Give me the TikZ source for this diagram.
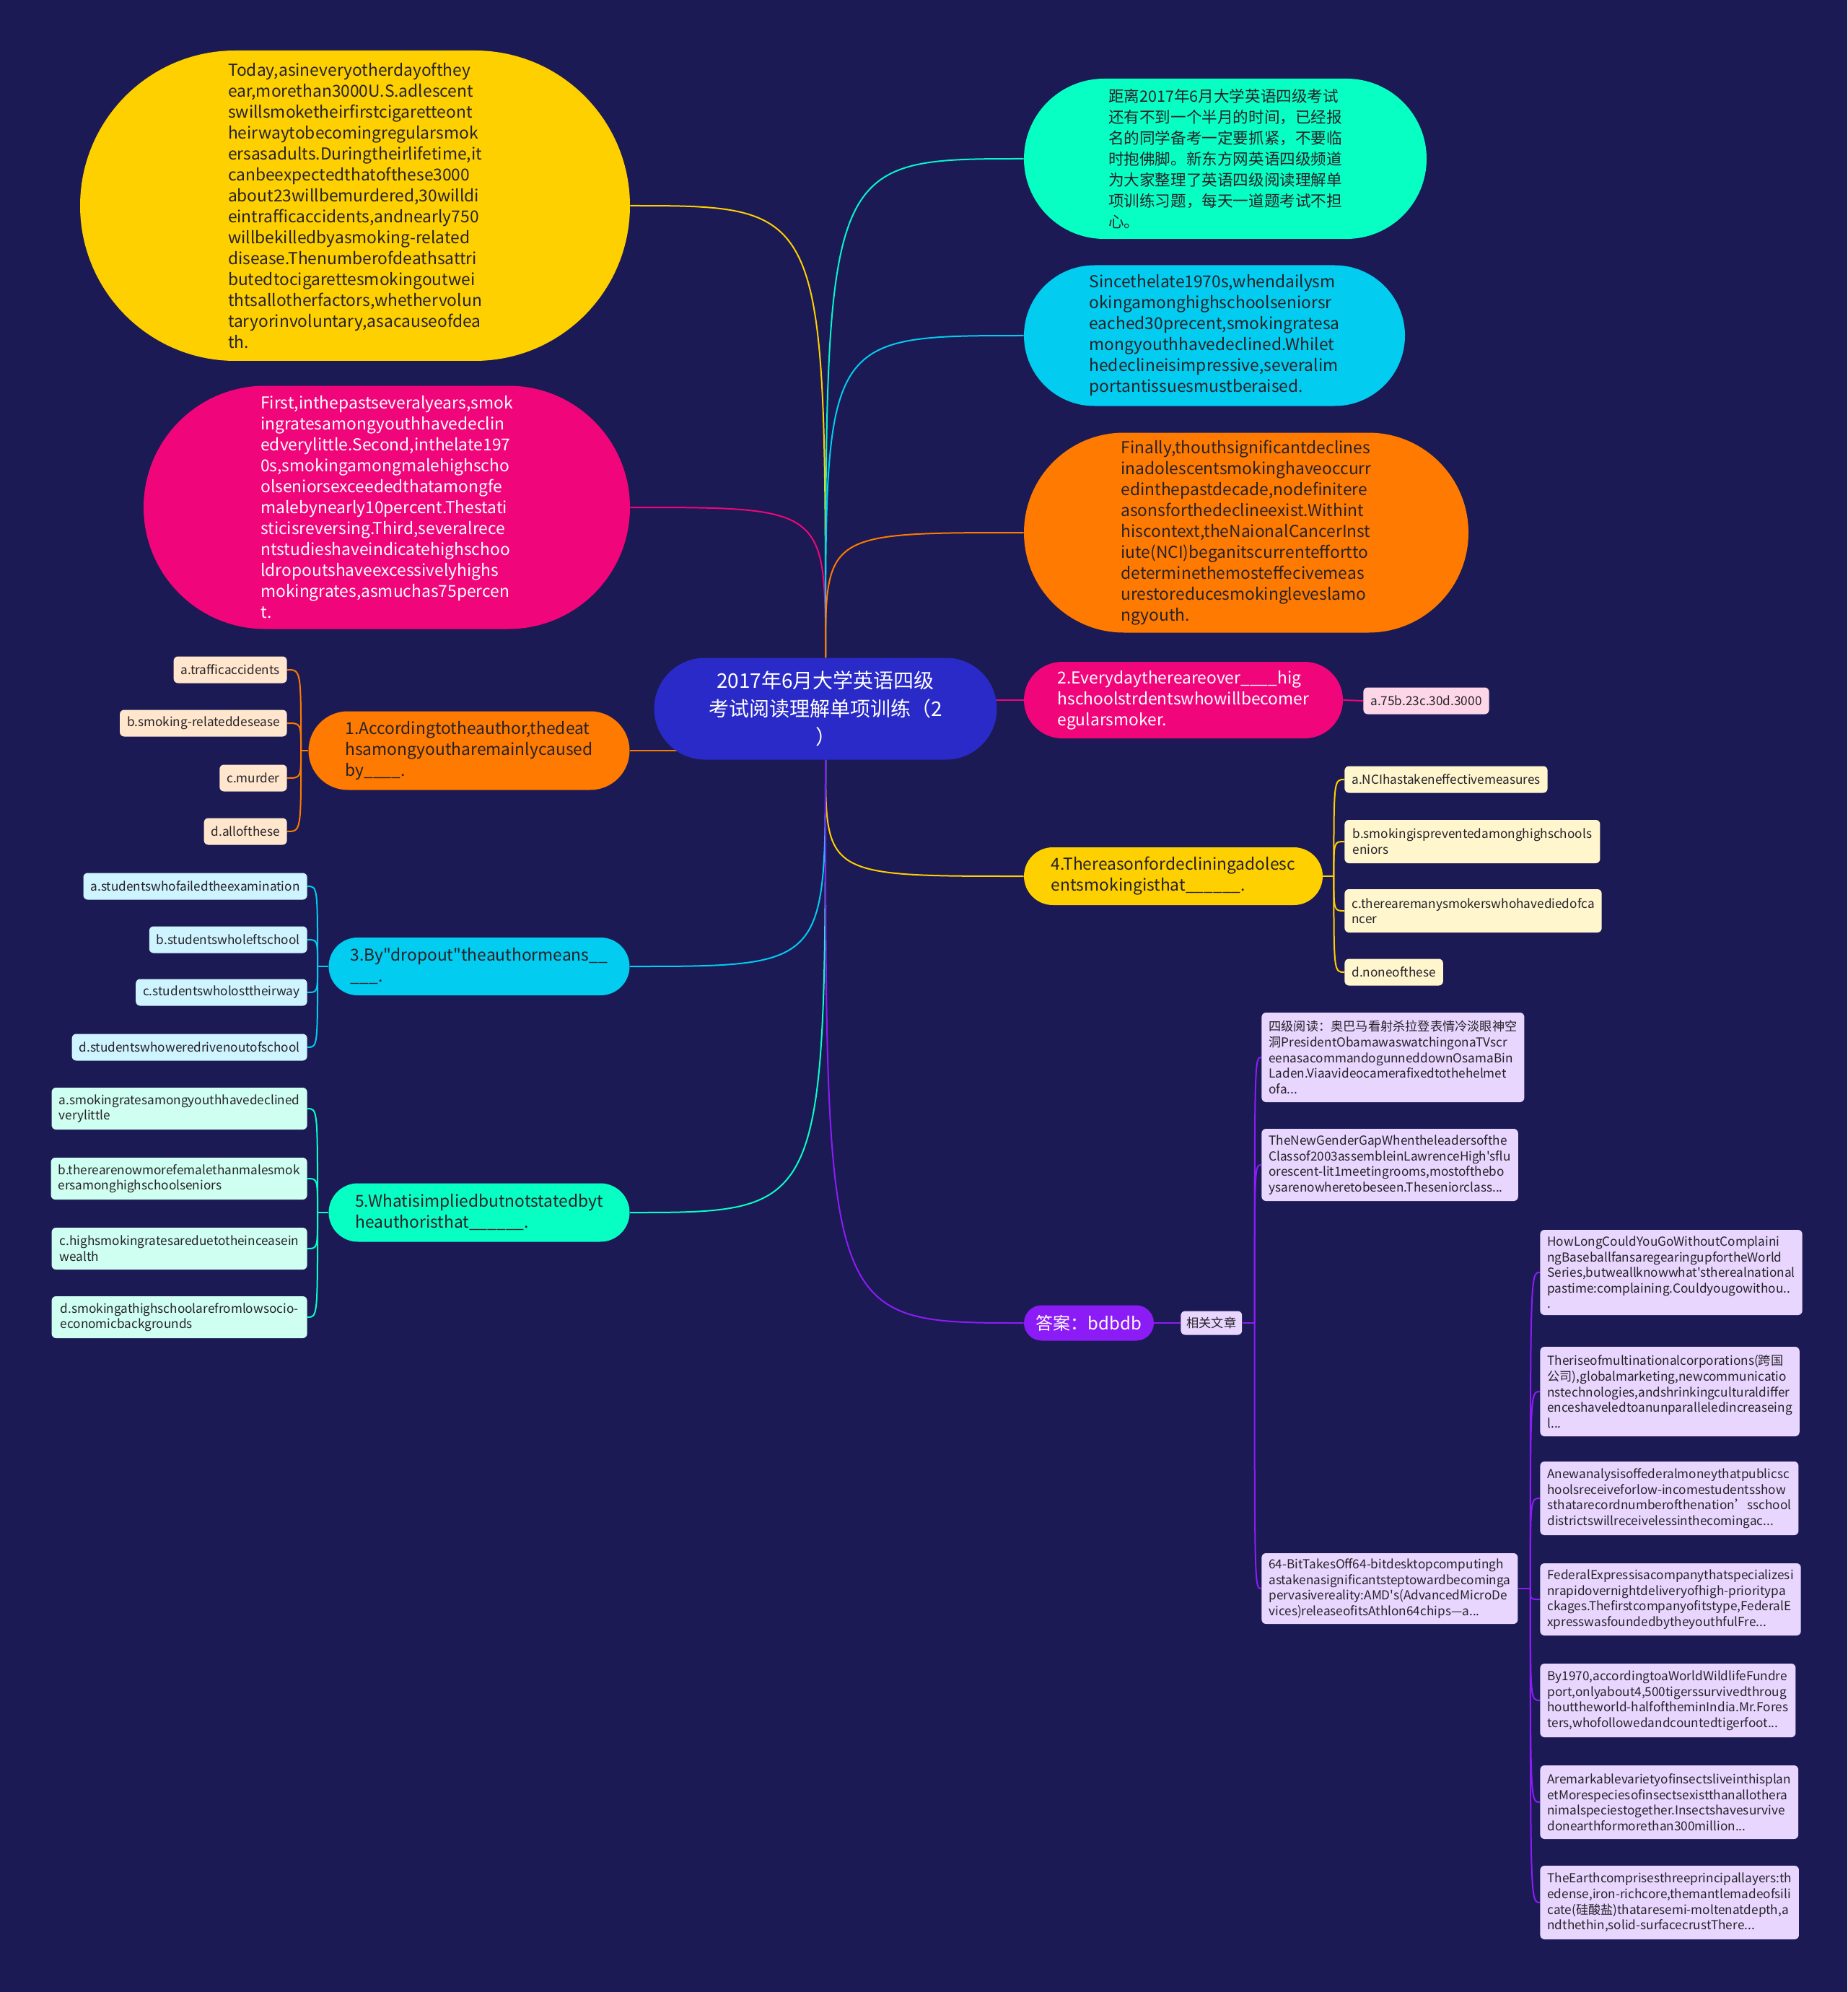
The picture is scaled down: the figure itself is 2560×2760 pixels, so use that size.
\documentclass[tikz,border=0pt]{standalone}
\usepackage{fontspec}
\setmainfont{Noto Sans CJK SC}[Ligatures=TeXOff]
\usetikzlibrary{positioning,shapes.misc,backgrounds}

\definecolor{bgnavy}{RGB}{27,26,84}
\definecolor{rootblue}{RGB}{42,42,200}
\definecolor{sunyellow}{RGB}{255,208,0}
\definecolor{hotpink}{RGB}{240,6,122}
\definecolor{mintgreen}{RGB}{8,255,196}
\definecolor{skycyan}{RGB}{2,204,240}
\definecolor{deeporange}{RGB}{255,122,0}
\definecolor{ansviolet}{RGB}{140,28,246}
\definecolor{inkdark}{RGB}{38,34,40}
\definecolor{peach}{RGB}{255,230,204}
\definecolor{icecyan}{RGB}{206,244,255}
\definecolor{icemint}{RGB}{206,255,240}
\definecolor{cream}{RGB}{255,246,206}
\definecolor{blush}{RGB}{253,214,232}
\definecolor{lilac}{RGB}{232,214,255}

\begin{document}
\begin{tikzpicture}[
  x=0.5pt, y=-0.5pt,
  topic/.style={rounded rectangle, fill=#1, align=left, inner sep=0pt, text=inkdark,
    font=\fontsize{11.4}{14.5}\selectfont},
  leaf/.style={fill=#1, rounded corners=3pt, align=left, inner xsep=5pt, inner ysep=2pt,
    minimum height=18.5pt, text=inkdark, font=\fontsize{8.6}{10.8}\selectfont},
  link/.style={draw=#1, line width=1pt}
]
  % Root
  \node[topic=rootblue, text=white, align=center, font=\fontsize{14}{19.4}\selectfont,
        minimum width=237.5pt, minimum height=70.5pt] (root) at (1144,982)
        {2017年6月大学英语四级\\考试阅读理解单项训练（2\\）};

  % Passage, left
  \node[topic=sunyellow, minimum width=381pt, minimum height=215pt] (t1) at (492,285)
    {Today,asineveryotherdayofthey\\ear,morethan3000U.S.adlescent\\swillsmoketheirfirstcigaretteont\\heirwaytobecomingregularsmok\\ersasadults.Duringtheirlifetime,it\\canbeexpectedthatofthese3000\\about23willbemurdered,30willdi\\eintrafficaccidents,andnearly750\\willbekilledbyasmoking-related\\disease.Thenumberofdeathsattri\\butedtocigarettesmokingoutwei\\thtsallotherfactors,whethervolun\\taryorinvoluntary,asacauseofdea\\th.};
  \node[topic=hotpink, text=white, minimum width=337pt, minimum height=168.5pt] (t2) at (536,703)
    {First,inthepastseveralyears,smok\\ingratesamongyouthhavedeclin\\edverylittle.Second,inthelate197\\0s,smokingamongmalehighscho\\olseniorsexceededthatamongfe\\malebynearly10percent.Thestati\\sticisreversing.Third,severalrece\\ntstudieshaveindicatehighschoo\\ldropoutshaveexcessivelyhighs\\mokingrates,asmuchas75percen\\t.};

  % Passage, right
  \node[topic=mintgreen, font=\fontsize{10.8}{14.5}\selectfont, minimum width=279pt, minimum height=111pt] (s1) at (1698,220)
    {距离2017年6月大学英语四级考试\\还有不到一个半月的时间，已经报\\名的同学备考一定要抓紧，不要临\\时抱佛脚。新东方网英语四级频道\\为大家整理了英语四级阅读理解单\\项训练习题，每天一道题考试不担\\心。};
  \node[topic=skycyan, minimum width=264pt, minimum height=97.5pt] (s2) at (1683,465)
    {Sincethelate1970s,whendailysm\\okingamonghighschoolseniorsr\\eached30precent,smokingratesa\\mongyouthhavedeclined.Whilet\\hedeclineisimpressive,severalim\\portantissuesmustberaised.};
  \node[topic=deeporange, minimum width=308pt, minimum height=138.5pt] (s3) at (1727,738)
    {Finally,thouthsignificantdeclines\\inadolescentsmokinghaveoccurr\\edinthepastdecade,nodefinitere\\asonsforthedeclineexist.Withint\\hiscontext,theNaionalCancerInst\\iute(NCI)beganitscurrenteffortto\\determinethemosteffecivemeas\\urestoreducesmokingleveslamo\\ngyouth.};

  % Questions
  \node[topic=hotpink, text=white, minimum width=221pt, minimum height=53pt] (q2) at (1640,970)
    {2.Everydaythereareover\_\_\_\_hig\\hschoolstrdentswhowillbecomer\\egularsmoker.};
  \node[topic=deeporange, minimum width=222.5pt, minimum height=54.5pt] (q1) at (650,1040)
    {1.Accordingtotheauthor,thedeat\\hsamongyoutharemainlycaused\\by\_\_\_\_.};
  \node[topic=skycyan, minimum width=208.5pt, minimum height=40pt] (q3) at (664,1339)
    {3.By"dropout"theauthormeans\_\_\\\_\_\_.};
  \node[topic=mintgreen, minimum width=208.5pt, minimum height=40.5pt] (q5) at (664,1680)
    {5.Whatisimpliedbutnotstatedbyt\\heauthoristhat\_\_\_\_\_\_.};
  \node[topic=sunyellow, minimum width=207pt, minimum height=40pt] (q4) at (1626,1214)
    {4.Thereasonfordecliningadolesc\\entsmokingisthat\_\_\_\_\_\_.};
  \node[topic=ansviolet, text=white, align=center, font=\fontsize{12}{14.5}\selectfont,
        minimum width=90pt, minimum height=24.5pt] (ans) at (1509,1833)
    {答案：bdbdb};

  % Options
  \node[leaf=blush, anchor=west] (q2a) at (1889,971) {a.75b.23c.30d.3000};

  \node[leaf=peach, anchor=east] (q1a) at (398,928) {a.trafficaccidents};
  \node[leaf=peach, anchor=east] (q1b) at (398,1002) {b.smoking-relateddesease};
  \node[leaf=peach, anchor=east] (q1c) at (398,1078) {c.murder};
  \node[leaf=peach, anchor=east] (q1d) at (398,1152) {d.allofthese};

  \node[leaf=icecyan, anchor=east] (q3a) at (426,1228) {a.studentswhofailedtheexamination};
  \node[leaf=icecyan, anchor=east] (q3b) at (426,1302) {b.studentswholeftschool};
  \node[leaf=icecyan, anchor=east] (q3c) at (426,1375) {c.studentswholosttheirway};
  \node[leaf=icecyan, anchor=east] (q3d) at (426,1451) {d.studentswhoweredrivenoutofschool};

  \node[leaf=icemint, anchor=east, minimum width=177pt, minimum height=29pt] (q5a) at (426,1536)
    {a.smokingratesamongyouthhavedeclined\\verylittle};
  \node[leaf=icemint, anchor=east, minimum width=177pt, minimum height=29pt] (q5b) at (426,1633)
    {b.therearenowmorefemalethanmalesmok\\ersamonghighschoolseniors};
  \node[leaf=icemint, anchor=east, minimum width=177pt, minimum height=29pt] (q5c) at (426,1730)
    {c.highsmokingratesareduetotheinceasein\\wealth};
  \node[leaf=icemint, anchor=east, minimum width=177pt, minimum height=29pt] (q5d) at (426,1825)
    {d.smokingathighschoolarefromlowsocio-\\economicbackgrounds};

  \node[leaf=cream, anchor=west] (q4a) at (1863,1080) {a.NCIhastakeneffectivemeasures};
  \node[leaf=cream, anchor=west, minimum width=177pt, minimum height=30pt] (q4b) at (1863,1166)
    {b.smokingispreventedamonghighschools\\eniors};
  \node[leaf=cream, anchor=west, minimum width=177pt, minimum height=30pt] (q4c) at (1863,1262)
    {c.therearemanysmokerswhohavediedofca\\ncer};
  \node[leaf=cream, anchor=west] (q4d) at (1863,1347) {d.noneofthese};

  % Related articles
  \node[leaf=lilac, anchor=west, minimum height=16.5pt, inner xsep=4pt] (rel) at (1636,1833) {相关文章};
  \node[leaf=lilac, anchor=west, minimum width=176.5pt, minimum height=62pt] (r1) at (1748,1465)
    {四级阅读：奥巴马看射杀拉登表情冷淡眼神空\\洞PresidentObamawaswatchingonaTVscr\\eenasacommandogunneddownOsamaBin\\Laden.Viaavideocamerafixedtothehelmet\\ofa...};
  \node[leaf=lilac, anchor=west, minimum width=176.5pt, minimum height=50pt] (r2) at (1748,1614)
    {TheNewGenderGapWhentheleadersofthe\\Classof2003assembleinLawrenceHigh'sflu\\orescent-lit1meetingrooms,mostofthebo\\ysarenowheretobeseen.Theseniorclass...};
  \node[leaf=lilac, anchor=west, minimum width=176.5pt, minimum height=49pt] (r3) at (1748,2201)
    {64-BitTakesOff64-bitdesktopcomputingh\\astakenasignificantsteptowardbecominga\\pervasivereality:AMD's(AdvancedMicroDe\\vices)releaseofitsAthlon64chips—a...};

  \node[leaf=lilac, anchor=west, minimum width=177pt, minimum height=59pt] (c1) at (2134,1763)
    {HowLongCouldYouGoWithoutComplaini\\ngBaseballfansaregearingupfortheWorld\\Series,butweallknowwhat'stherealnational\\pastime:complaining.Couldyougowithou..\\.};
  \node[leaf=lilac, anchor=west, minimum width=177pt, minimum height=62pt] (c2) at (2134,1928)
    {Theriseofmultinationalcorporations(跨国\\公司),globalmarketing,newcommunicatio\\nstechnologies,andshrinkingculturaldiffer\\enceshaveledtoanunparalleledincreaseing\\l...};
  \node[leaf=lilac, anchor=west, minimum width=177pt, minimum height=51pt] (c3) at (2134,2076)
    {Anewanalysisoffederalmoneythatpublicsc\\hoolsreceiveforlow-incomestudentsshow\\sthatarecordnumberofthenation’sschool\\districtswillreceivelessinthecomingac...};
  \node[leaf=lilac, anchor=west, minimum width=177pt, minimum height=50pt] (c4) at (2134,2216)
    {FederalExpressisacompanythatspecializesi\\nrapidovernightdeliveryofhigh-prioritypa\\ckages.Thefirstcompanyofitstype,FederalE\\xpresswasfoundedbytheyouthfulFre...};
  \node[leaf=lilac, anchor=west, minimum width=177pt, minimum height=51pt] (c5) at (2134,2356)
    {By1970,accordingtoaWorldWildlifeFundre\\port,onlyabout4,500tigerssurvivedthroug\\houttheworld-halfoftheminIndia.Mr.Fores\\ters,whofollowedandcountedtigerfoot...};
  \node[leaf=lilac, anchor=west, minimum width=177pt, minimum height=51pt] (c6) at (2134,2497)
    {Aremarkablevarietyofinsectsliveinthisplan\\etMorespeciesofinsectsexistthanallothera\\nimalspeciestogether.Insectshavesurvive\\donearthformorethan300million...};
  \node[leaf=lilac, anchor=west, minimum width=177pt, minimum height=51pt] (c7) at (2134,2636)
    {TheEarthcomprisesthreeprincipallayers:th\\edense,iron-richcore,themantlemadeofsili\\cate(硅酸盐)thataresemi-moltenatdepth,a\\ndthethin,solid-surfacecrustThere...};

  % Junctions
  \coordinate (q1j) at ([xshift=-5pt]q1.west);
  \coordinate (q3j) at ([xshift=-7.5pt]q3.west);
  \coordinate (q5j) at ([xshift=-7.5pt]q5.west);
  \coordinate (q4j) at ([xshift=7.5pt]q4.east);
  \coordinate (relj) at ([xshift=8.5pt]rel.east);
  \coordinate (r3j) at ([xshift=8.5pt]r3.east);

  \begin{scope}[on background layer]
    \fill[bgnavy] (0,0) rectangle (2560,2760);

    % Branches from the root
    \draw[link=sunyellow] (root.north) .. controls (root.north |- t1.east) and (root.north |- t1.east) .. (t1.east);
    \draw[link=hotpink] (root.north) .. controls (root.north |- t2.east) and (root.north |- t2.east) .. (t2.east);
    \draw[link=mintgreen!80!skycyan] (root.north) .. controls (root.north |- s1.west) and (root.north |- s1.west) .. (s1.west);
    \draw[link=skycyan] (root.north) .. controls (root.north |- s2.west) and (root.north |- s2.west) .. (s2.west);
    \draw[link=deeporange] (root.north) .. controls (root.north |- s3.west) and (root.north |- s3.west) .. (s3.west);
    \draw[link=deeporange] (q1.east) -- (q1.east -| root.center);
    \draw[link=hotpink] (q2.west) -- (q2.west -| root.center);
    \draw[link=skycyan] (root.south) .. controls (root.south |- q3.east) and (root.south |- q3.east) .. (q3.east);
    \draw[link=mintgreen] (root.south) .. controls (root.south |- q5.east) and (root.south |- q5.east) .. (q5.east);
    \draw[link=sunyellow] (root.south) .. controls (root.south |- q4.west) and (root.south |- q4.west) .. (q4.west);
    \draw[link=ansviolet] (root.south) .. controls (root.south |- ans.west) and (root.south |- ans.west) .. (ans.west);

    % Options
    \draw[link=hotpink] (q2.east) -- (q2a.west);
    \draw[link=deeporange] (q1.west) -- (q1j);
    \foreach \n in {q1a,q1b,q1c,q1d}
      \draw[link=deeporange] (q1j) .. controls (q1j |- \n.east) and (q1j |- \n.east) .. (\n.east);
    \draw[link=skycyan] (q3.west) -- (q3j);
    \foreach \n in {q3a,q3b,q3c,q3d}
      \draw[link=skycyan] (q3j) .. controls (q3j |- \n.east) and (q3j |- \n.east) .. (\n.east);
    \draw[link=mintgreen] (q5.west) -- (q5j);
    \foreach \n in {q5a,q5b,q5c,q5d}
      \draw[link=mintgreen] (q5j) .. controls (q5j |- \n.east) and (q5j |- \n.east) .. (\n.east);
    \draw[link=sunyellow] (q4.east) -- (q4j);
    \foreach \n in {q4a,q4b,q4c,q4d}
      \draw[link=sunyellow] (q4j) .. controls (q4j |- \n.west) and (q4j |- \n.west) .. (\n.west);

    % Related articles
    \draw[link=ansviolet] (ans.east) -- (rel.west);
    \draw[link=ansviolet] (rel.east) -- (relj);
    \foreach \n in {r1,r2,r3}
      \draw[link=ansviolet] (relj) .. controls (relj |- \n.west) and (relj |- \n.west) .. (\n.west);
    \draw[link=ansviolet] (r3.east) -- (r3j);
    \foreach \n in {c1,c2,c3,c4,c5,c6,c7}
      \draw[link=ansviolet] (r3j) .. controls (r3j |- \n.west) and (r3j |- \n.west) .. (\n.west);
  \end{scope}
\end{tikzpicture}
\end{document}
